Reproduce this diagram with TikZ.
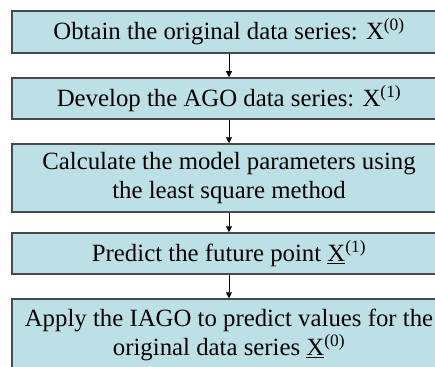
\documentclass[tikz,border=0pt]{standalone}
\usepackage{fontspec}
\setmainfont{Liberation Serif}
\usetikzlibrary{arrows.meta,positioning}
\definecolor{boxblue}{RGB}{188,224,229}
\definecolor{boxedge}{RGB}{70,74,76}

\begin{document}
\begin{tikzpicture}[x=1pt,y=-1pt,
    stepbox/.style={draw=boxedge, line width=1.5pt, fill=boxblue, minimum width=434pt,
        align=center, inner sep=0pt, font=\fontsize{24.8}{29}\selectfont},
    flow/.style={-{Triangle[length=6pt,width=6pt]}, line width=0.9pt}]
    \useasboundingbox (0,0) rectangle (435,366);

    \node[stepbox, minimum height=42pt] (obtain) at (229,32) {Obtain the original data series: X\textsuperscript{(0)}};
    \node[stepbox, minimum height=41pt] (ago) at (229,98.5) {Develop the AGO data series: X\textsuperscript{(1)}};
    \node[stepbox, minimum height=68pt] (params) at (229,178) {Calculate the model parameters using\\the least square method};
    \node[stepbox, minimum height=41pt] (predict) at (229,253.5) {Predict the future point \underline{X}\textsuperscript{(1)}};
    \node[stepbox, minimum height=72pt] (iago) at (229,335) {Apply the IAGO to predict values for the\\original data series \underline{X}\textsuperscript{(0)}};

    \draw[flow] (obtain) -- (ago);
    \draw[flow] (ago) -- (params);
    \draw[flow] (params) -- (predict);
    \draw[flow] (predict) -- (iago);
\end{tikzpicture}
\end{document}
